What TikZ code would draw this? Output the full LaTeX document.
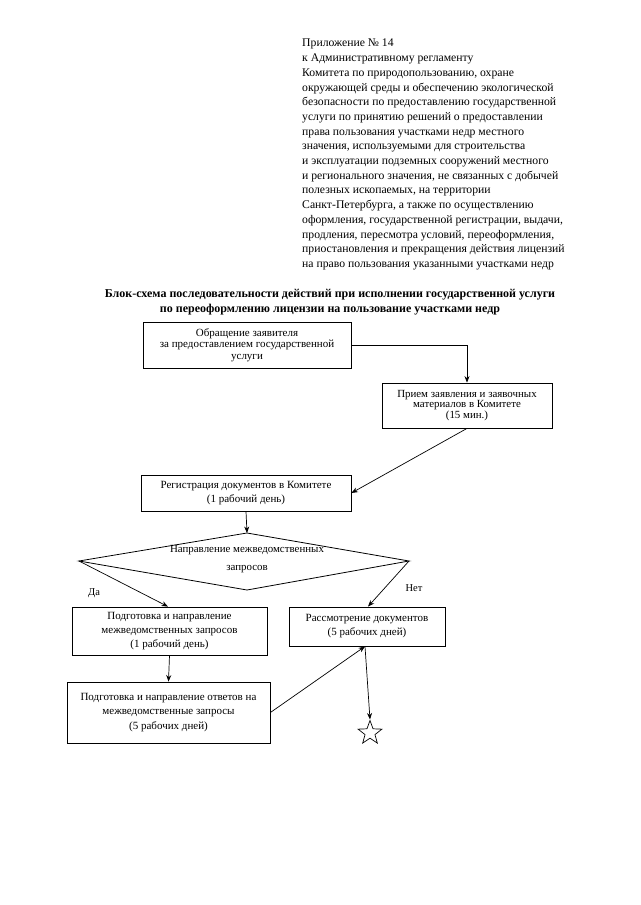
\documentclass[tikz,border=0pt]{standalone}
\usepackage{fontspec}
\setmainfont{Liberation Serif}
\usetikzlibrary{arrows.meta,shapes.geometric}
\begin{document}
\begin{tikzpicture}[x=1pt,y=-1pt,
  box/.style={draw,line width=0.8pt,inner sep=0pt,align=center,font=\fontsize{11}{14}\selectfont},
  arr/.style={line width=0.7pt,-{Stealth[length=6.5pt,width=5pt]}},
  lbl/.style={font=\fontsize{10.5}{12}\selectfont,inner sep=0pt}]
\useasboundingbox (0,0) rectangle (640,905);
\fill[white] (0,0) rectangle (640,905);
% header
\node[anchor=north west,align=left,inner sep=0pt,font=\fontsize{11.7}{14.7}\selectfont] (hdr) at (302,39)
{Приложение № 14\\
к Административному регламенту\\
Комитета по природопользованию, охране\\
окружающей среды и обеспечению экологической\\
безопасности по предоставлению государственной\\
услуги по принятию решений о предоставлении\\
права пользования участками недр местного\\
значения, используемыми для строительства\\
и эксплуатации подземных сооружений местного\\
и регионального значения, не связанных с добычей\\
полезных ископаемых, на территории\\
Санкт-Петербурга, а также по осуществлению\\
оформления, государственной регистрации, выдачи,\\
продления, пересмотра условий, переоформления,\\
приостановления и прекращения действия лицензий\\
на право пользования указанными участками недр};
% title
\node[align=center,inner sep=0pt,font=\bfseries\fontsize{12}{15}\selectfont] (ttl) at (330,302)
{Блок-схема последовательности действий при исполнении государственной услуги\\
по переоформлению лицензии на пользование участками недр};
% boxes
\node[box,minimum width=208pt,minimum height=46pt,font=\fontsize{11}{11.5}\selectfont] (b1) at (247,345)
{Обращение заявителя\\за предоставлением государственной\\услуги};
\node[box,minimum width=170pt,minimum height=45pt,font=\fontsize{10.9}{10.8}\selectfont] (b2) at (467,405.5)
{Прием заявления и заявочных\\материалов в Комитете\\(15 мин.)};
\node[box,minimum width=210pt,minimum height=36pt] (b3) at (246,493)
{Регистрация документов в Комитете\\(1 рабочий день)};
\node[box,minimum width=195pt,minimum height=48pt] (b4) at (169.5,631)
{Подготовка и направление\\межведомственных запросов\\(1 рабочий день)};
\node[box,minimum width=156pt,minimum height=39pt] (b5) at (367,626.5)
{Рассмотрение документов\\(5 рабочих дней)};
\node[box,minimum width=203pt,minimum height=61pt,font=\fontsize{11}{14.5}\selectfont] (b6) at (168.5,712.5)
{Подготовка и направление ответов на\\межведомственные запросы\\(5 рабочих дней)};
% diamond
\coordinate (dl) at (79,561);
\coordinate (dr) at (409,561);
\coordinate (dt) at (247,533);
\coordinate (db) at (247,590);
\draw[line width=0.8pt] (dl) -- (dt) -- (dr) -- (db) -- cycle;
\node[align=center,inner sep=0pt,font=\fontsize{10.9}{18}\selectfont] (dtext) at (247,559)
{Направление межведомственных\\запросов};
% star
\node[draw,star,star points=5,star point ratio=2.4,minimum size=25pt,inner sep=0pt,line width=0.7pt] (st) at (370,733) {};
% labels
\node[lbl] (da) at (94,593) {Да};
\node[lbl] (net) at (414,588) {Нет};
% connectors
\coordinate (b4in) at ([xshift=-1.5pt]b4.north);
\coordinate (b5in) at ([xshift=1pt]b5.north);
\coordinate (b5out) at ([xshift=-2pt]b5.south);
\draw[arr] (b1.east) -| (b2.north);
\draw[arr] (b2.south) -- (b3.east);
\draw[arr] (b3.south) -- (dt);
\draw[arr] (dl) -- (b4in);
\draw[arr] (dr) -- (b5in);
\draw[arr] (b4.south) -- (b6.north);
\draw[arr] (b6.east) -- (b5out);
\draw[arr] (b5out) -- (st.north);
\end{tikzpicture}
\end{document}
